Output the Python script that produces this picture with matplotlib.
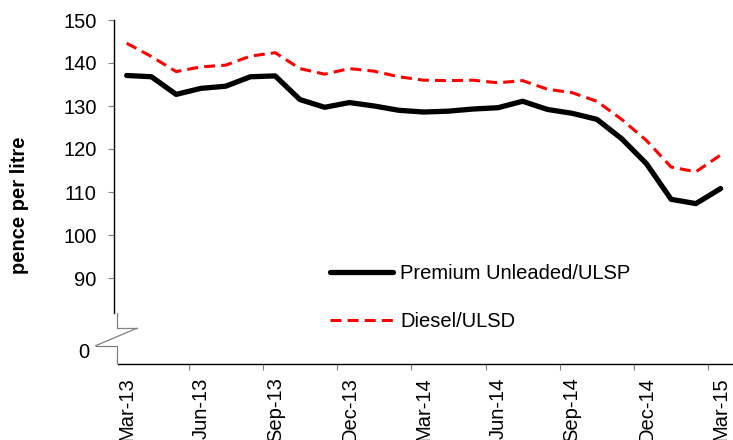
import matplotlib
matplotlib.use("Agg")
import matplotlib.pyplot as plt
from matplotlib.lines import Line2D

plt.rcParams['font.family'] = ['Liberation Sans', 'DejaVu Sans']

months = ["Mar-13", "Apr-13", "May-13", "Jun-13", "Jul-13", "Aug-13", "Sep-13", "Oct-13",
          "Nov-13", "Dec-13", "Jan-14", "Feb-14", "Mar-14", "Apr-14", "May-14", "Jun-14",
          "Jul-14", "Aug-14", "Sep-14", "Oct-14", "Nov-14", "Dec-14", "Jan-15", "Feb-15", "Mar-15"]
premium = [137.1, 136.8, 132.7, 134.1, 134.6, 136.8, 137.0, 131.5, 129.7, 130.8, 130.0, 129.0,
           128.6, 128.8, 129.3, 129.6, 131.1, 129.2, 128.3, 126.9, 122.4, 116.6, 108.3, 107.3, 110.8]
diesel = [144.6, 141.5, 138.0, 139.1, 139.5, 141.6, 142.4, 138.7, 137.4, 138.7, 138.1, 136.8,
          136.0, 135.9, 136.0, 135.4, 135.9, 133.9, 133.1, 131.1, 126.9, 122.0, 115.8, 114.7, 118.6]
yticks = [90, 100, 110, 120, 130, 140, 150]
label_every = 3

FS = 14.5
W, H = 733, 440
fig = plt.figure(figsize=(W / 100, H / 100), dpi=100)
ax_left, ax_bottom, ax_top = 114.3, 364, 20
ax = fig.add_axes([ax_left / W, 1 - ax_bottom / H, 1 - ax_left / W, (ax_bottom - ax_top) / H])

x = list(range(len(months)))
lp, = ax.plot(x, premium, color='black', lw=3.8, solid_joinstyle='round',
              solid_capstyle='round', label='Premium Unleaded/ULSP')
ld, = ax.plot(x, diesel, color='#ff0000', lw=2.2, linestyle=(0, (3.6, 2.0)),
              label='Diesel/ULSD')

ax.set_xlim(-0.5, len(months) - 0.5)
ax.set_ylim(70, 150)

for s in ['top', 'right']:
    ax.spines[s].set_visible(False)
ax.spines['left'].set_bounds(81.9, 150)
ax.spines['bottom'].set_bounds(-0.35, len(months) - 0.5)
ax.spines['left'].set_linewidth(1.0)
ax.spines['bottom'].set_linewidth(1.0)

ax.set_yticks(yticks)
ax.set_yticklabels([str(v) for v in yticks])
ax.tick_params(axis='y', length=4.3, width=0.8, color='#808080', pad=8.5,
               labelsize=FS, direction='out')

major = x[::label_every]
ax.set_xticks(major)
ax.set_xticklabels([months[i] for i in major], rotation=90)
ax.set_xticks([i - 0.5 for i in major[1:]], minor=True)
ax.tick_params(axis='x', which='major', length=0, pad=9.5, labelsize=FS)
ax.tick_params(axis='x', which='minor', length=4.5, width=0.8, color='#808080',
               direction='out')

# axis break marker and "0" label
grey = '#808080'
def px(xp, yp):
    return xp / W, 1 - yp / H
brk = [
    [(116.7, 312.7), (116.7, 328.3), (136.7, 328.3)],
    [(136.7, 328.3), (95.7, 345.7)],
    [(95.7, 345.7), (116.7, 345.7), (116.7, 363.3)],
]
for seg in brk:
    xs = [px(a, b)[0] for a, b in seg]
    ys = [px(a, b)[1] for a, b in seg]
    fig.add_artist(Line2D(xs, ys, color=grey, lw=0.9, transform=fig.transFigure))
fig.text(89 / W, 1 - 352 / H, '0', ha='right', va='center', fontsize=FS)

fig.text(20 / W, 1 - 205 / H, 'pence per litre', rotation=90, ha='center', va='center',
         fontsize=FS, fontweight='bold')

leg = ax.legend(handles=[lp, ld], loc='center left',
                bbox_to_anchor=(330 / W, 1 - 297.5 / H), bbox_transform=fig.transFigure,
                frameon=False, fontsize=FS, handlelength=3.15, handletextpad=0.33,
                labelspacing=1.42, borderpad=0, borderaxespad=0)

fig.savefig('out.png', dpi=100)
